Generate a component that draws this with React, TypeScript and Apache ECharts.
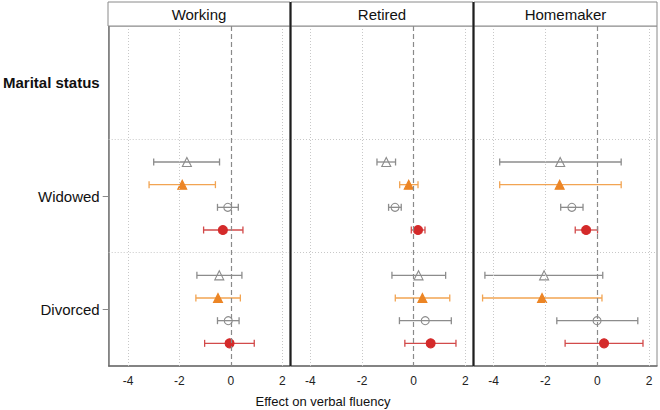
import React, { useEffect, useRef } from "react";
import * as echarts from "echarts";

// ---- data ----
const panels = ["Working", "Retired", "Homemaker"];
const groups = ["Widowed", "Divorced"];
const headerLabel = "Marital status";
const xTicks = [-4, -2, 0, 2];
const xTitle = "Effect on verbal fluency";

// each entry: [estimate, lower, upper] for Widowed, Divorced
const series1Gray = [
  [[-1.71, -3.0, -0.44], [-0.45, -1.32, 0.43]],
  [[-1.06, -1.42, -0.7], [0.19, -0.84, 1.24]],
  [[-1.43, -3.76, 0.92], [-2.05, -4.33, 0.21]],
];
const series2Orange = [
  [[-1.89, -3.18, -0.6], [-0.5, -1.36, 0.37]],
  [[-0.19, -0.54, 0.17], [0.34, -0.71, 1.4]],
  [[-1.45, -3.76, 0.92], [-2.13, -4.42, 0.18]],
];
const series3GrayCircle = [
  [[-0.12, -0.52, 0.29], [-0.1, -0.52, 0.32]],
  [[-0.72, -0.97, -0.48], [0.45, -0.55, 1.46]],
  [[-0.98, -1.41, -0.55], [-0.01, -1.56, 1.56]],
];
const series4Red = [
  [[-0.31, -1.06, 0.47], [-0.05, -1.02, 0.91]],
  [[0.17, -0.09, 0.44], [0.66, -0.34, 1.64]],
  [[-0.43, -0.85, 0.01], [0.26, -1.24, 1.76]],
];

const seriesDefs = [
  { name: "Series 1", data: series1Gray, line: "#8c8c8c", fill: "rgba(0,0,0,0)", border: "#8c8c8c", symbol: "triangle", size: 9, offset: -0.3 },
  { name: "Series 2", data: series2Orange, line: "#f2a452", fill: "#ec8525", border: "#ec8525", symbol: "triangle", size: 9, offset: -0.1 },
  { name: "Series 3", data: series3GrayCircle, line: "#8c8c8c", fill: "rgba(0,0,0,0)", border: "#8c8c8c", symbol: "circle", size: 8, offset: 0.1 },
  { name: "Series 4", data: series4Red, line: "#d24a4a", fill: "#d42a2a", border: "#d42a2a", symbol: "circle", size: 9, offset: 0.3 },
];

const FONT = "Liberation Sans, Arial, Helvetica, sans-serif";

export default function App() {
  const ref = useRef<HTMLDivElement>(null);
  useEffect(() => {
    if (!ref.current) return;
    const chart = echarts.init(ref.current, null, { renderer: "svg" });

    const gridLefts = [108, 291, 474];
    const gridWidths = [182, 182, 183];
    const top = 26;
    const height = 340;

    const grids = panels.map((_, i) => ({
      left: gridLefts[i],
      top,
      width: gridWidths[i],
      height,
      show: true,
      borderColor: "#8a8a8a",
      borderWidth: 1,
      backgroundColor: "#fff",
    }));

    const xAxes = panels.map((_, i) => ({
      type: "value",
      gridIndex: i,
      min: -4.75,
      max: 2.3,
      axisLine: { show: true, onZero: false, lineStyle: { color: "#6e6e6e", width: 1.5 } },
      axisTick: { show: false, customValues: xTicks },
      splitLine: { show: false },
      axisLabel: {
        customValues: xTicks,
        color: "#222",
        fontSize: 12,
        fontFamily: FONT,
        margin: 9,
        showMinLabel: true,
        showMaxLabel: true,
      },
    }));

    const labelAt: Record<string, string> = {
      "0.5": "{b|" + headerLabel + "}",
      "1.5": groups[0],
      "2.5": groups[1],
    };

    const yAxes = panels.map((_, i) => ({
      type: "value",
      gridIndex: i,
      min: 0,
      max: 3,
      inverse: true,
      axisLine: { show: i === 0, onZero: false, lineStyle: { color: "#7a7a7a", width: 1.5 } },
      axisTick: {
        show: i === 0,
        customValues: [1.5, 2.5],
        length: 6,
        lineStyle: { color: "#8a8a8a" },
      },
      splitLine: { show: false },
      axisLabel: {
        show: i === 0,
        customValues: [0.5, 1.5, 2.5],
        formatter: (v: number) => labelAt[String(v)] ?? "",
        color: "#111",
        fontSize: 15,
        fontFamily: FONT,
        margin: 9,
        rich: {
          b: { fontWeight: "bold", fontSize: 15, color: "#111", fontFamily: FONT },
        },
      },
    }));

    const series: any[] = [];
    panels.forEach((_, p) => {
      // gridlines
      series.push({
        type: "line",
        xAxisIndex: p,
        yAxisIndex: p,
        data: [],
        silent: true,
        markLine: {
          silent: true,
          symbol: "none",
          label: { show: false },
          animation: false,
          data: [
            ...xTicks
              .filter((t) => t !== 0)
              .map((t) => ({ xAxis: t, lineStyle: { color: "#c8c8c8", type: [1, 2], width: 1 } })),
            { yAxis: 1, lineStyle: { color: "#c8c8c8", type: [1, 2], width: 1 } },
            { yAxis: 2, lineStyle: { color: "#c8c8c8", type: [1, 2], width: 1 } },
            { xAxis: 0, lineStyle: { color: "#8a8a8a", type: [5, 3], width: 1.2 } },
          ],
        },
      });
      seriesDefs.forEach((s) => {
        const rows = s.data[p].map((d, g) => [d[1], d[2], 1.5 + g + s.offset, d[0]]);
        series.push({
          type: "custom",
          name: s.name,
          xAxisIndex: p,
          yAxisIndex: p,
          data: rows,
          encode: { x: [0, 1], y: 2 },
          z: 3,
          renderItem: (params: any, api: any) => {
            const y = api.value(2);
            const a = api.coord([api.value(0), y]);
            const b = api.coord([api.value(1), y]);
            const h = 3.5;
            const style = { stroke: s.line, lineWidth: 1.3 };
            return {
              type: "group",
              children: [
                { type: "line", shape: { x1: a[0], y1: a[1], x2: b[0], y2: b[1] }, style },
                { type: "line", shape: { x1: a[0], y1: a[1] - h, x2: a[0], y2: a[1] + h }, style },
                { type: "line", shape: { x1: b[0], y1: b[1] - h, x2: b[0], y2: b[1] + h }, style },
              ],
            };
          },
        });
        series.push({
          type: "scatter",
          name: s.name,
          xAxisIndex: p,
          yAxisIndex: p,
          z: 4,
          symbol: s.symbol,
          symbolSize: s.size,
          itemStyle: { color: s.fill, borderColor: s.border, borderWidth: 1.1, opacity: 1 },
          data: s.data[p].map((d, g) => [d[0], 1.5 + g + s.offset]),
        });
      });
    });

    const graphics: any[] = [];
    panels.forEach((name, i) => {
      graphics.push({
        type: "rect",
        shape: { x: gridLefts[i], y: 2, width: gridWidths[i], height: 24 },
        style: { fill: "#fff", stroke: "#8a8a8a", lineWidth: 1 },
        z: 10,
      });
      graphics.push({
        type: "text",
        x: gridLefts[i] + gridWidths[i] / 2,
        y: 14,
        style: {
          text: name,
          fill: "#111",
          font: `15px ${FONT}`,
          textAlign: "center",
          textVerticalAlign: "middle",
        },
        z: 11,
      });
    });
    [290.5, 473.5].forEach((x) => {
      graphics.push({
        type: "line",
        shape: { x1: x, y1: 2, x2: x, y2: 366 },
        style: { stroke: "#1e1e1e", lineWidth: 2 },
        z: 12,
      });
    });
    graphics.push({
      type: "text",
      x: 323,
      y: 401,
      style: {
        text: xTitle,
        fill: "#111",
        font: `13px ${FONT}`,
        textAlign: "center",
        textVerticalAlign: "middle",
      },
      z: 11,
    });

    chart.setOption({
      animation: false,
      backgroundColor: "#fff",
      grid: grids,
      xAxis: xAxes,
      yAxis: yAxes,
      series,
      graphic: graphics,
    });
    return () => chart.dispose();
  }, []);

  return <div ref={ref} style={{ width: 660, height: 410, position: "absolute", left: 0, top: 0 }} />;
}
